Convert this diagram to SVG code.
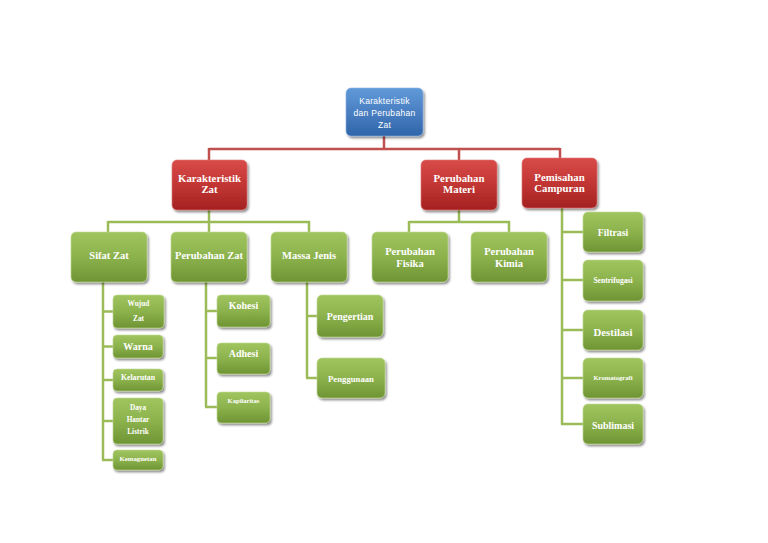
<svg xmlns="http://www.w3.org/2000/svg" width="768" height="543" viewBox="0 0 768 543">
<defs>
<linearGradient id="gB" x1="0" y1="0" x2="0" y2="1"><stop offset="0" stop-color="#609ad8"/><stop offset="0.5" stop-color="#4a7fc2"/><stop offset="1" stop-color="#2f65a9"/></linearGradient>
<linearGradient id="gR" x1="0" y1="0" x2="0" y2="1"><stop offset="0" stop-color="#d84b48"/><stop offset="0.5" stop-color="#c23634"/><stop offset="1" stop-color="#a42222"/></linearGradient>
<linearGradient id="gG" x1="0" y1="0" x2="0" y2="1"><stop offset="0" stop-color="#a0c55f"/><stop offset="0.5" stop-color="#8cb24d"/><stop offset="1" stop-color="#6e9434"/></linearGradient>
<filter id="sh" x="-20%" y="-20%" width="150%" height="160%"><feDropShadow dx="1.5" dy="2" stdDeviation="1.3" flood-color="#000" flood-opacity="0.45"/></filter>
</defs>
<style>
.b{fill:url(#gB);filter:url(#sh);stroke:#8fb4e3;stroke-width:0.6}
.r{fill:url(#gR);filter:url(#sh);stroke:#e07a78;stroke-width:0.6}
.g{fill:url(#gG);filter:url(#sh);stroke:#c2da95;stroke-width:0.6}
.rl{stroke:#c0504d;stroke-width:2.5;fill:none}
.gl{stroke:#9bbb59;stroke-width:2.5;fill:none}
text{fill:#fff;text-anchor:middle;font-family:"Liberation Serif","DejaVu Serif",serif;font-weight:bold}
.s{font-family:"Liberation Sans","DejaVu Sans",sans-serif;font-weight:normal;font-size:8.5px;letter-spacing:0.3px}
.l1{font-size:10.8px}
.l2{font-size:10.5px}
</style>
<rect width="768" height="543" fill="#fff"/>
<g id="connectors">
<path class="rl" d="M384 136V149M209 149H560M209 148V160M459 148V160M560 148V158"/>
<path class="gl" d="M209 210V222M108 222H310M108 221V232M209 221V232M309 221V232"/>
<path class="gl" d="M459 210V222M409 222H510M409 221V232M509 221V232"/>
<path class="gl" d="M103 282V460M102 311.5H113M102 346.5H113M102 380H113M102 421H113M102 460H113"/>
<path class="gl" d="M206 282V407M205 311H217M205 358H217M205 407H217"/>
<path class="gl" d="M307 282V378M306 316H317M306 378H317"/>
<path class="gl" d="M562 208V424M561 232H583M561 280H583M561 330H583M561 378H583M561 424H583"/>
</g>
<g id="root"><rect class="b" x="346" y="88" width="77" height="48" rx="5"/>
<text class="s" x="384.5" y="104">Karakteristik</text><text class="s" x="384.5" y="116">dan Perubahan</text><text class="s" x="384.5" y="128">Zat</text></g>
<g id="karakteristik-zat"><rect class="r" x="172" y="160" width="75" height="50" rx="5"/>
<text class="l1" x="209.5" y="182">Karakteristik</text><text class="l1" x="209.5" y="193">Zat</text></g>
<g id="perubahan-materi"><rect class="r" x="421" y="160" width="76" height="50" rx="5"/>
<text class="l1" x="459" y="182">Perubahan</text><text class="l1" x="459" y="193">Materi</text></g>
<g id="pemisahan-campuran"><rect class="r" x="522" y="158" width="75" height="50" rx="5"/>
<text class="l1" x="559.5" y="181">Pemisahan</text><text class="l1" x="559.5" y="192">Campuran</text></g>
<g id="sifat-zat"><rect class="g" x="71" y="232" width="76" height="50" rx="5"/><text class="l2" x="109" y="259">Sifat Zat</text></g>
<g id="perubahan-zat"><rect class="g" x="171" y="232" width="76" height="50" rx="5"/><text class="l2" x="209" y="259">Perubahan Zat</text></g>
<g id="massa-jenis"><rect class="g" x="271" y="232" width="76" height="50" rx="5"/><text class="l2" x="309" y="259">Massa Jenis</text></g>
<g id="perubahan-fisika"><rect class="g" x="372" y="232" width="76" height="50" rx="5"/><text class="l2" x="410" y="255">Perubahan</text><text class="l2" x="410" y="267">Fisika</text></g>
<g id="perubahan-kimia"><rect class="g" x="471" y="232" width="76" height="50" rx="5"/><text class="l2" x="509" y="255">Perubahan</text><text class="l2" x="509" y="267">Kimia</text></g>
<g id="wujud-zat"><rect class="g" x="113" y="295" width="51" height="33" rx="4"/><text x="138.5" y="305.5" font-size="7.3">Wujud</text><text x="138.5" y="320.5" font-size="7.3">Zat</text></g>
<g id="warna"><rect class="g" x="113" y="335" width="50" height="23" rx="4"/><text x="138" y="349.5" font-size="10">Warna</text></g>
<g id="kelarutan"><rect class="g" x="113" y="369" width="50" height="22" rx="4"/><text x="138" y="380" font-size="7.8">Kelarutan</text></g>
<g id="daya-hantar-listrik"><rect class="g" x="113" y="398" width="50" height="46" rx="4"/><text x="138" y="409.5" font-size="7.3">Daya</text><text x="138" y="421.5" font-size="7.3">Hantar</text><text x="138" y="433.5" font-size="7.3">Listrik</text></g>
<g id="kemagnetan"><rect class="g" x="113" y="450" width="50" height="20" rx="4"/><text x="138" y="460.5" font-size="6.8">Kemagnetan</text></g>
<g id="kohesi"><rect class="g" x="217" y="295" width="53" height="32" rx="4"/><text x="243.5" y="308.5" font-size="10">Kohesi</text></g>
<g id="adhesi"><rect class="g" x="217" y="343" width="53" height="31" rx="4"/><text x="243.5" y="356.5" font-size="10">Adhesi</text></g>
<g id="kapilaritas"><rect class="g" x="217" y="392" width="53" height="31" rx="4"/><text x="243.5" y="402.5" font-size="6.6">Kapilaritas</text></g>
<g id="pengertian"><rect class="g" x="317" y="295" width="66" height="42" rx="5"/><text x="350" y="320" font-size="10">Pengertian</text></g>
<g id="penggunaan"><rect class="g" x="317" y="358" width="68" height="40" rx="5"/><text x="351" y="382" font-size="8.7">Penggunaan</text></g>
<g id="filtrasi"><rect class="g" x="583" y="212" width="60" height="40" rx="5"/><text x="613" y="236" font-size="9.8">Filtrasi</text></g>
<g id="sentrifugasi"><rect class="g" x="583" y="260" width="60" height="41" rx="5"/><text x="613" y="282.5" font-size="7.6">Sentrifugasi</text></g>
<g id="destilasi"><rect class="g" x="583" y="310" width="60" height="40" rx="5"/><text x="613" y="335.5" font-size="10.8">Destilasi</text></g>
<g id="kromatografi"><rect class="g" x="583" y="358" width="60" height="40" rx="5"/><text x="613" y="380" font-size="6.6">Kromatografi</text></g>
<g id="sublimasi"><rect class="g" x="583" y="404" width="60" height="40" rx="5"/><text x="613" y="428.5" font-size="10">Sublimasi</text></g>
</svg>
